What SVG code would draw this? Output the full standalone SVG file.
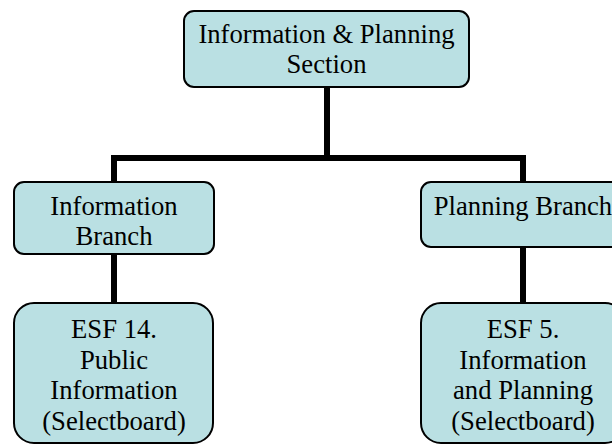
<svg xmlns="http://www.w3.org/2000/svg" width="612" height="444" viewBox="0 0 612 444">
<style>
.box{fill:#BAE0E3;stroke:#000;stroke-width:2}
.t{font-family:"Liberation Serif","Times New Roman",serif;font-size:26.67px;fill:#000;text-anchor:middle}
.c{fill:none;stroke:#000;stroke-width:6;stroke-linejoin:miter}
</style>
<rect width="612" height="444" fill="#fff"/>
<g id="connectors">
<path class="c" d="M327,87 V158"/>
<path class="c" d="M114,182 V158 H523 V182"/>
<path class="c" d="M114,254 V303"/>
<path class="c" d="M523,247 V303"/>
</g>
<g id="section">
<rect class="box" x="184" y="11" width="285" height="76" rx="10"/>
<text class="t" x="326.5" y="43">Information &amp; Planning</text>
<text class="t" x="326.5" y="73">Section</text>
</g>
<g id="info-branch">
<rect class="box" x="14" y="182" width="200" height="72" rx="10"/>
<text class="t" x="114" y="215">Information</text>
<text class="t" x="114" y="245">Branch</text>
</g>
<g id="planning-branch">
<rect class="box" x="421" y="182" width="204" height="65" rx="10"/>
<text class="t" x="523" y="215">Planning Branch</text>
</g>
<g id="esf14">
<rect class="box" x="14" y="303" width="199" height="140" rx="20"/>
<text class="t" x="114" y="338">ESF 14.</text>
<text class="t" x="114" y="368.5">Public</text>
<text class="t" x="114" y="399">Information</text>
<text class="t" x="114" y="429.5">(Selectboard)</text>
</g>
<g id="esf5">
<rect class="box" x="421" y="303" width="204" height="140" rx="20"/>
<text class="t" x="523" y="338">ESF 5.</text>
<text class="t" x="523" y="368.5">Information</text>
<text class="t" x="523" y="399">and Planning</text>
<text class="t" x="523" y="429.5">(Selectboard)</text>
</g>
</svg>
